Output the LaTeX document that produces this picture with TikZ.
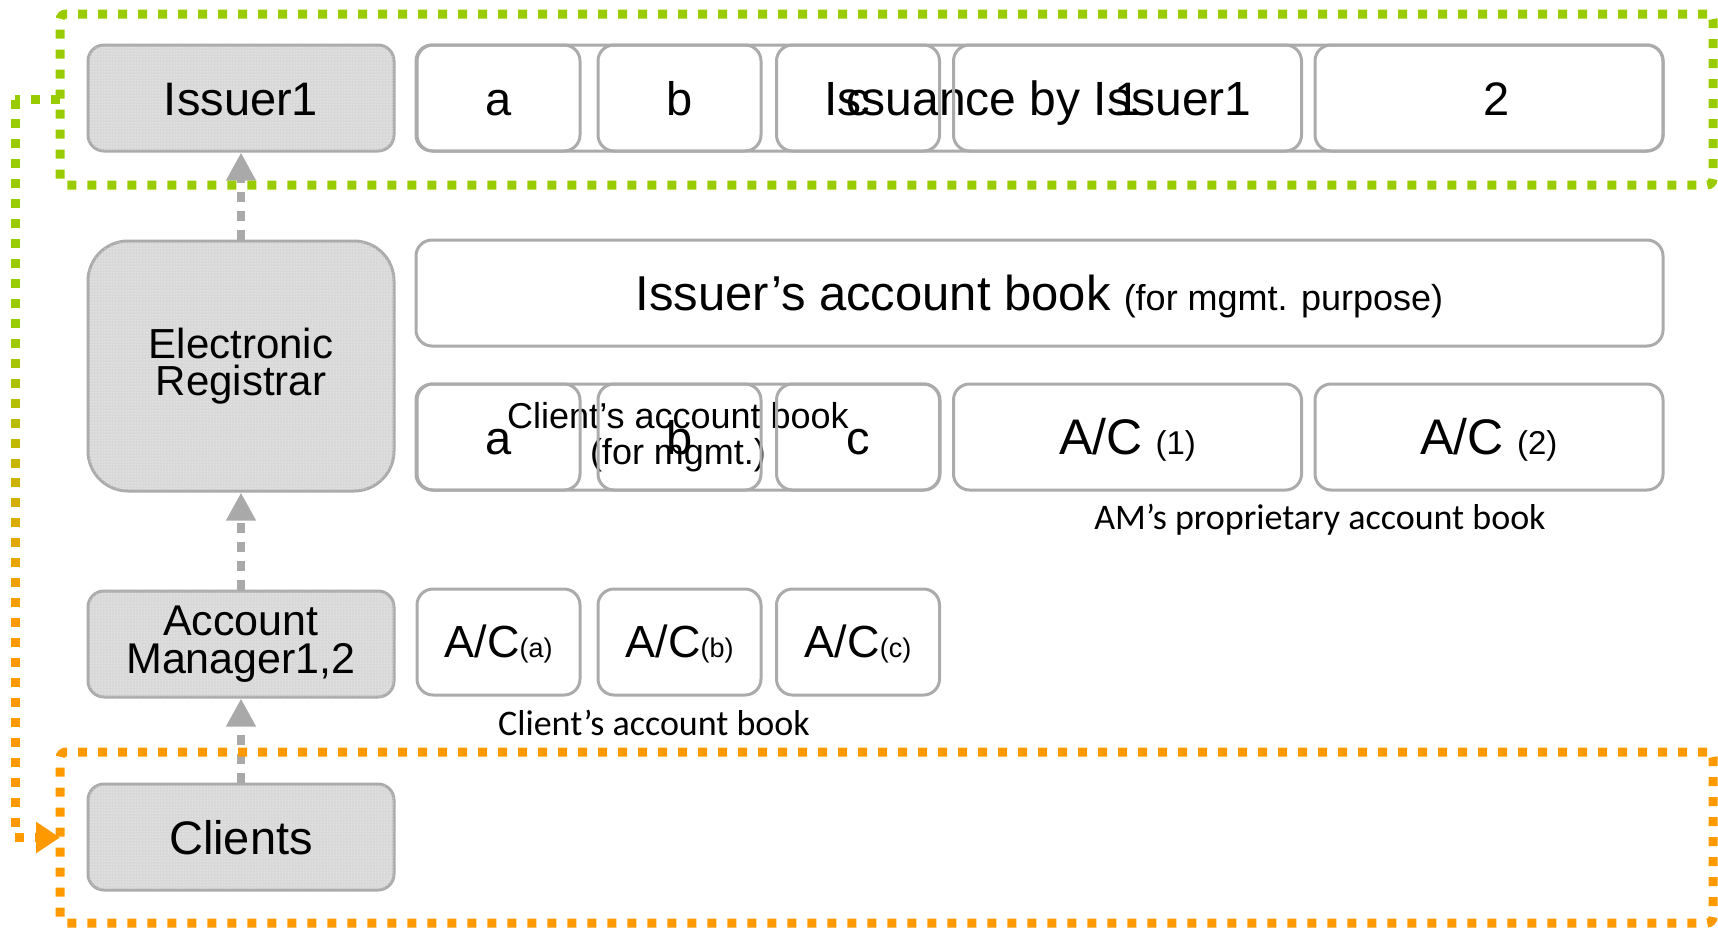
\documentclass[tikz,border=0pt]{standalone}
\usepackage{fontspec}
\setmainfont{Liberation Sans}
\newfontfamily\capfont{Carlito}
\usetikzlibrary{arrows.meta,patterns,calc}

\definecolor{edgegray}{HTML}{ABABAB}
\definecolor{panelgray}{HTML}{D8D8D8}
\definecolor{linkgray}{HTML}{A9A9A9}
\definecolor{limegreen}{HTML}{99CC00}
\definecolor{amber}{HTML}{FF9900}

\newcommand\fsz[1]{\fontsize{#1}{#1}\selectfont}

\begin{document}
\begin{tikzpicture}[x=1pt,y=-1pt,
  box/.style={draw=edgegray, line width=3pt, rounded corners=16pt, inner sep=0pt,
    minimum height=106pt, align=center, font=\fsz{47}},
  oneline/.style={text height=34pt, text depth=0pt},
  actor/.style={box, minimum width=306pt, fill=panelgray,
    postaction={pattern=dots, pattern color=white}},
  small/.style={box, oneline, minimum width=163pt},
  wide/.style={box, oneline, minimum width=348pt},
  link/.style={draw=linkgray, line width=8pt, dash pattern=on 10pt off 9pt,
    -{Triangle[length=28pt,width=28pt]}},
  frame/.style={line width=9pt, dash pattern=on 9pt off 11pt, rounded corners=6pt,
    inner sep=0pt, outer sep=0pt, minimum width=1653pt, minimum height=171pt},
  dotline/.style={line width=9pt, dash pattern=on 9pt off 11pt},
  caption/.style={font=\capfont\fsz{36}, inner sep=0pt}
]
\useasboundingbox (0,0) rectangle (1718,927);

% participants (left column)
\node[actor, oneline] (issuer) at (241,98) {Issuer1};
\node[actor, minimum height=250pt, rounded corners=40pt,
  font=\fontsize{42}{37}\selectfont] (registrar) at (241,366) {Electronic\\Registrar};
\node[actor, font=\fontsize{43}{38}\selectfont] (manager) at (241,644) {Account\\Manager1,2};
\node[actor, oneline] (clients) at (241,837) {Clients};

% issuance row
\node[box, oneline, minimum width=1247pt, fill=white, font=\fsz{48}] (issuance) at (1039.5,98)
  {\hspace*{-3pt}Issuance by Issuer1};
\node[small] (ia) at (498.5,98) {a};
\node[small] (ib) at (679.5,98) {b};
\node[small] (ic) at (858,98) {c};
\node[wide] (i1) at (1127.5,98) {1};
\node[wide, text width=348pt] (i2) at (1489,98) {\hspace*{16pt}2};

% issuer's account book
\node[box, oneline, minimum width=1247pt] (ibook) at (1039.5,293)
  {{\fsz{49}Issuer’s account book} {\fsz{36}(for mgmt. purpose)}};

% registrar's books
\node[box, minimum width=524pt, fill=white, font=\fontsize{36}{36}\selectfont] (mgmt) at (678,437)
  {Client’s account book\\(for mgmt.)};
\node[small] (ra) at (498.5,437) {a};
\node[small] (rb) at (679.5,437) {b};
\node[small] (rc) at (858,437) {c};
\node[wide] (r1) at (1127.5,437) {{\fsz{50}A/C} {\fsz{33}(1)}};
\node[wide] (r2) at (1489,437) {{\fsz{50}A/C} {\fsz{33}(2)}};
\node[caption] (amlabel) at (1320,520) {AM’s proprietary account book};

% account manager's books
\node[small, text height=30pt] (ca) at (498.5,642) {{\fsz{45}A/C}{\fsz{27}(a)}};
\node[small, text height=30pt] (cb) at (679.5,642) {{\fsz{45}A/C}{\fsz{27}(b)}};
\node[small, text height=30pt] (cc) at (858,642) {{\fsz{45}A/C}{\fsz{27}(c)}};
\node[caption] (clabel) at (654,723) {Client’s account book};

% reporting chain
\draw[link] (registrar.north) -- (issuer.south);
\draw[link] (manager.north) -- (registrar.south);
\draw[link] (clients.north) -- (manager.south);

% groups
\node[frame, draw=limegreen] (gframe) at (886.5,99.5) {};
\node[frame, draw=amber] (oframe) at (886.5,837.5) {};

% distribution from the issuer group to the clients group
\coordinate (c1) at ([xshift=-45pt]gframe.west);
\coordinate (c2) at (c1 |- oframe.west);
\draw[dotline, draw=limegreen] (gframe.west) -- (c1);
\foreach \i in {0,...,36}{
  \pgfmathsetmacro\ta{\i/37}
  \pgfmathsetmacro\tb{(\i+1)/37}
  \pgfmathtruncatemacro\mixp{max(0,min(100,(0.72-\ta)/(0.72-0.30)*100))}
  \draw[dotline, draw=limegreen!\mixp!amber] ($(c1)!\ta!(c2)$) -- ($(c1)!\tb!(c2)$);
}
\draw[dotline, draw=amber, -{Triangle[length=24pt,width=30pt]}] (c2) -- (oframe.west);
\end{tikzpicture}
\end{document}
